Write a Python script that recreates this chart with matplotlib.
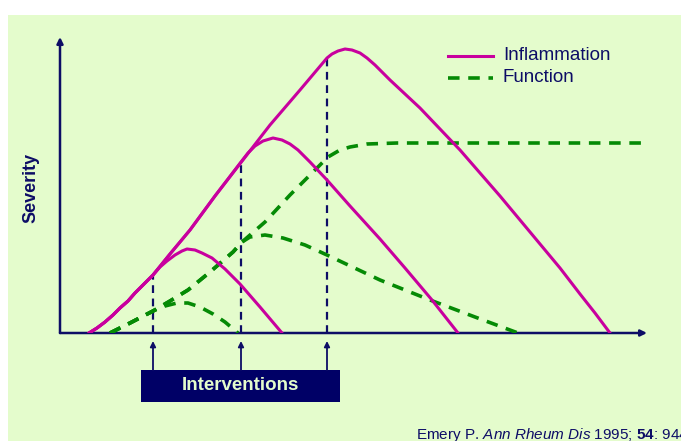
import matplotlib
matplotlib.use("Agg")
import matplotlib.pyplot as plt
from matplotlib.patches import Rectangle
import numpy as np

plt.rcParams['font.family'] = ['Liberation Sans', 'DejaVu Sans']
plt.rcParams['mathtext.fontset'] = 'custom'
plt.rcParams['mathtext.rm'] = 'Liberation Sans'
plt.rcParams['mathtext.it'] = 'Liberation Sans:italic'
plt.rcParams['mathtext.bf'] = 'Liberation Sans:bold'

# time (x) and severity (y)
rise_t = [29, 37, 45, 53, 60, 68, 75, 84, 93]
rise_s = [0, 5, 11, 18, 25, 32, 40, 49, 58]

infl1_t = rise_t + [100, 107, 115, 122, 127, 135, 142, 152, 165, 180, 200, 222]
infl1_s = rise_s + [66, 72, 78, 82, 84, 83, 80, 75, 64, 49, 26, 0]

infl2_t = rise_t + [110, 130, 155, 181, 188, 195, 203, 213, 222, 230, 238, 250, 267,
                    290, 320, 345, 372, 398]
infl2_s = rise_s + [79, 103, 137, 171, 180, 187, 192, 195, 193, 189, 183, 171, 153,
                    127, 94, 65, 33, 0]

infl3_t = infl2_t[:12] + [210, 240, 267, 272, 278, 285, 292, 300, 307, 315, 330, 345, 360,
                          380, 400, 420, 440, 460, 480, 500, 520, 535, 550]
infl3_s = infl2_s[:12] + [208, 243, 275, 279, 282, 284, 283, 280, 275, 268, 253, 239, 225,
                          204, 183, 160, 137, 113, 89, 65, 39, 20, 0]

func_rise_t = [50, 70, 93]
func_rise_s = [0, 10, 22]

func1_t = func_rise_t + [105, 117, 128, 140, 153, 165, 178]
func1_s = func_rise_s + [27, 30, 30, 26, 19, 11, 0]

func2_t = func_rise_t + [110, 128, 150, 173, 182, 190, 205, 223, 245, 267, 320, 370, 415, 458]
func2_s = func_rise_s + [32, 43, 61, 81, 91, 96, 98, 95, 88, 78, 53, 33, 16, 0]

func3_t = func2_t[:8] + [205, 230, 250, 268, 280, 290, 307, 337, 585]
func3_s = func2_s[:8] + [111, 138, 158, 176, 183, 186, 189, 190, 190]

interv_t = [93, 181, 267]
interv_s = [58, 171, 275]

navy = '#0d0d66'
magenta = '#c8009e'
green = '#058a05'
panel = '#e4fccc'

fig = plt.figure(figsize=(6.81, 4.41), dpi=100)
bg = fig.add_axes([8 / 681, 0, 1, 1 - 15 / 441], zorder=-5)
bg.set_facecolor(panel)
bg.set_xticks([])
bg.set_yticks([])
for sp in bg.spines.values():
    sp.set_visible(False)

ax = fig.add_axes([60 / 681, 108 / 441, 587 / 681, 296 / 441])
ax.set_xlim(0, 587)
ax.set_ylim(0, 296)
ax.patch.set_alpha(0)
for sp in ax.spines.values():
    sp.set_visible(False)
ax.set_xticks([])
ax.set_yticks([])

# axes with arrow heads
ax.annotate('', xy=(0, 296), xytext=(0, 0),
            arrowprops=dict(arrowstyle='-|>', color=navy, lw=1.8, mutation_scale=9,
                            shrinkA=0, shrinkB=0), annotation_clip=False)
ax.annotate('', xy=(587, 0), xytext=(0, 0),
            arrowprops=dict(arrowstyle='-|>', color=navy, lw=1.8, mutation_scale=9,
                            shrinkA=0, shrinkB=0), annotation_clip=False)

# intervention markers
for t, s in zip(interv_t, interv_s):
    ax.plot([t, t], [0, s], color=navy, lw=1.6, dashes=(3.5, 2.5), zorder=2)
    ax.annotate('', xy=(t, -8), xytext=(t, -37),
                arrowprops=dict(arrowstyle='-|>', color=navy, lw=1.3, mutation_scale=8,
                                shrinkA=0, shrinkB=0), annotation_clip=False)

for t, s in [(func1_t, func1_s), (func2_t, func2_s), (func3_t, func3_s)]:
    ax.plot(t, s, color=green, lw=2.6, dashes=(3.2, 2.4), solid_joinstyle='round', zorder=3)
for t, s in [(infl1_t, infl1_s), (infl2_t, infl2_s), (infl3_t, infl3_s)]:
    ax.plot(t, s, color=magenta, lw=2.2, solid_joinstyle='round', solid_capstyle='round', zorder=4)

# legend
ax.plot([388, 433], [277, 277], color=magenta, lw=2.2, clip_on=False)
ax.plot([388, 433], [255, 255], color=green, lw=2.6, dashes=(3.2, 2.4), clip_on=False)
ax.text(443, 277, 'Inflammation', color=navy, fontsize=13.5, va='center', ha='left')
ax.text(443, 255, 'Function', color=navy, fontsize=13.5, va='center', ha='left')

# interventions box
ax.add_patch(Rectangle((81, -69), 199, 32, facecolor='#000066', edgecolor='none', clip_on=False))
ax.text(180.5, -53, 'Interventions', color=panel, fontsize=13.5, fontweight='bold',
        ha='center', va='center')

ax.text(-29, 145, 'Severity', color=navy, fontsize=13, fontweight='bold', rotation=90,
        ha='center', va='center')

fig.text(416 / 681, 2 / 441, 'Emery P. $\\it{Ann\\ Rheum\\ Dis}$ 1995; $\\bf{54}$: 944',
         color=navy, fontsize=11, ha='left', va='baseline')

fig.savefig('out.png', dpi=100, facecolor='white')
